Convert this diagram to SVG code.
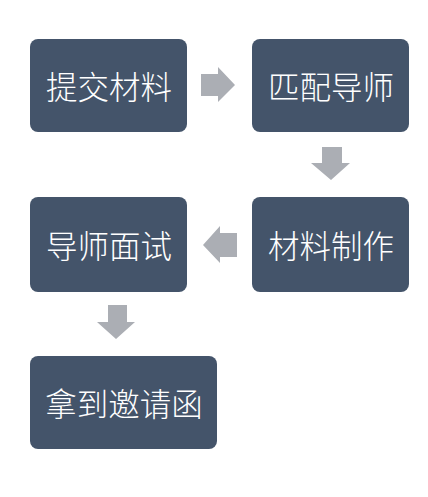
<svg xmlns="http://www.w3.org/2000/svg" width="428" height="497" viewBox="0 0 428 497">
<style>
.box{fill:#44546a}
.lbl{fill:#ffffff;font-family:"Noto Sans CJK SC","Noto Sans CJK JP",sans-serif;font-size:31.5px;font-weight:300;text-anchor:middle;dominant-baseline:central}
.arr{fill:#abaeb4}
</style>
<rect width="428" height="497" fill="#ffffff"/>
<g id="n1"><rect class="box" x="30" y="39" width="157" height="93" rx="8"/><text class="lbl" x="109" y="85">提交材料</text></g>
<g id="n2"><rect class="box" x="252" y="39" width="157" height="93" rx="8"/><text class="lbl" x="331" y="85">匹配导师</text></g>
<g id="n3"><rect class="box" x="252" y="197" width="157" height="95" rx="8"/><text class="lbl" x="331" y="244">材料制作</text></g>
<g id="n4"><rect class="box" x="30" y="197" width="157" height="95" rx="8"/><text class="lbl" x="109" y="244">导师面试</text></g>
<g id="n5"><rect class="box" x="30" y="356" width="187" height="93" rx="8"/><text class="lbl" x="124" y="402">拿到邀请函</text></g>
<g id="connectors">
<polygon class="arr" points="201,74 218,74 218,67 235,85 218,102 218,96 201,96"/>
<polygon class="arr" points="322,147 342,147 342,163 350,163 331,180 311,163 322,163"/>
<polygon class="arr" points="237,233 220,233 220,226 203,245 220,263 220,257 237,257"/>
<polygon class="arr" points="108,305 127,305 127,322 135,322 116,339 97,322 108,322"/>
</g>
</svg>
